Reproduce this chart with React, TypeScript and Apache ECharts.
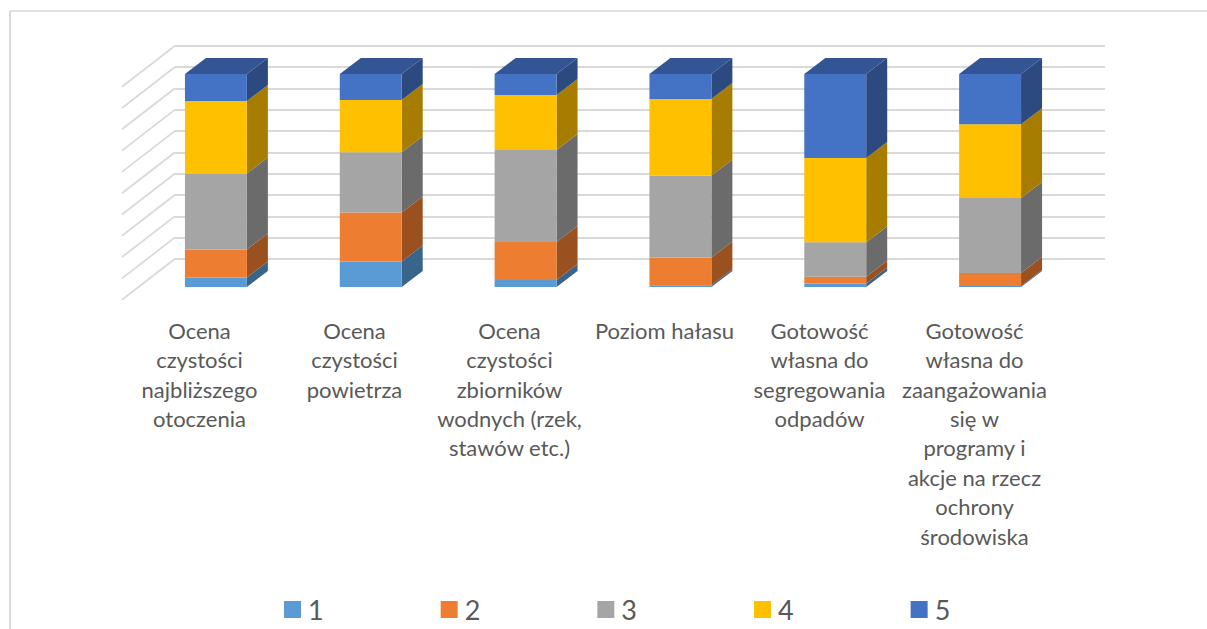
import React, { useEffect, useRef } from "react";
import * as echarts from "echarts";

const categories = [
  "Ocena\nczystości\nnajbliższego\notoczenia",
  "Ocena\nczystości\npowietrza",
  "Ocena\nczystości\nzbiorników\nwodnych (rzek,\nstawów etc.)",
  "Poziom hałasu",
  "Gotowość\nwłasna do\nsegregowania\nodpadów",
  "Gotowość\nwłasna do\nzaangażowania\nsię w\nprogramy i\nakcje na rzecz\nochrony\nśrodowiska",
];
const series1 = [4.5, 12, 3.3, 0.8, 1.7, 0.5];
const series2 = [13.1, 23, 17.8, 13, 3.1, 6.1];
const series3 = [35.7, 28.3, 43.2, 38.5, 16.2, 35.2];
const series4 = [34, 24.5, 25.8, 36, 39.6, 34.6];
const series5 = [12.7, 12.2, 9.9, 11.7, 39.4, 23.6];
const seriesNames = ["1", "2", "3", "4", "5"];
const ticks = [0, 10, 20, 30, 40, 50, 60, 70, 80, 90, 100];

const frontColors = ["#5B9BD5", "#ED7D31", "#A5A5A5", "#FFC000", "#4472C4"];
const sideColors = ["#3A658B", "#9A511F", "#6B6B6B", "#A67D00", "#2C4A80"];
const topColor = "#335593";
const gridColor = "#D9D9D9";
const textColor = "#595959";
const fontFamily = "Lato, 'Noto Sans', sans-serif";

const DEPTH_X = 21;
const DEPTH_Y = 16;
const WALL_X = 53;
const WALL_Y = 41;

export default function App() {
  const ref = useRef<HTMLDivElement>(null);

  useEffect(() => {
    const chart = echarts.init(ref.current!, undefined, { renderer: "svg" });
    const all = [series1, series2, series3, series4, series5];
    const bases = categories.map(() => 0);

    const barSeries = all.map((values, s) => {
      const data = values.map((v, i) => {
        const item = [i, bases[i], bases[i] + v];
        bases[i] += v;
        return item;
      });
      return {
        name: seriesNames[s],
        type: "custom",
        xAxisIndex: 0,
        yAxisIndex: 0,
        z: 5 + s,
        itemStyle: { color: frontColors[s] },
        encode: { x: 0, y: [1, 2] },
        data,
        renderItem: (_p: any, api: any) => {
          const c = api.value(0);
          const bot = api.coord([c, api.value(1)]);
          const top = api.coord([c, api.value(2)]);
          const w = api.size([1, 0])[0] * 0.4;
          const x0 = bot[0] - w / 2;
          const x1 = bot[0] + w / 2;
          const children: any[] = [
            {
              type: "polygon",
              shape: {
                points: [
                  [x1, top[1]],
                  [x1 + DEPTH_X, top[1] - DEPTH_Y],
                  [x1 + DEPTH_X, bot[1] - DEPTH_Y],
                  [x1, bot[1]],
                ],
              },
              style: { fill: sideColors[s] },
            },
            {
              type: "rect",
              shape: { x: x0, y: top[1], width: w, height: bot[1] - top[1] },
              style: { fill: frontColors[s] },
            },
          ];
          if (s === all.length - 1) {
            children.push({
              type: "polygon",
              shape: {
                points: [
                  [x0, top[1]],
                  [x0 + DEPTH_X, top[1] - DEPTH_Y],
                  [x1 + DEPTH_X, top[1] - DEPTH_Y],
                  [x1, top[1]],
                ],
              },
              style: { fill: topColor },
            });
          }
          return { type: "group", children };
        },
      };
    });

    const option: any = {
      animation: false,
      backgroundColor: "#FFFFFF",
      grid: [
        { left: 138.5, width: 929, top: 74, height: 213 },
        { left: 175, width: 930, top: 45.7, height: 213.4 },
        { left: 122, width: 930, top: 86.7, height: 213 },
      ],
      xAxis: [
        { type: "category", gridIndex: 0, data: categories, show: false },
        { type: "category", gridIndex: 1, data: categories, show: false },
        {
          type: "category",
          gridIndex: 2,
          data: categories,
          axisLine: { show: false },
          axisTick: { show: false },
          axisLabel: {
            interval: 0,
            margin: 16,
            color: textColor,
            fontFamily,
            fontSize: 22,
            lineHeight: 29.4,
            align: "center",
            verticalAlign: "top",
          },
        },
      ],
      yAxis: [
        { type: "value", gridIndex: 0, min: 0, max: 100, interval: 10, show: false },
        {
          type: "value",
          gridIndex: 1,
          min: 0,
          max: 100,
          interval: 10,
          axisLine: { show: false },
          axisTick: { show: false },
          axisLabel: { show: false },
          splitLine: { show: true, lineStyle: { color: gridColor, width: 2 } },
        },
        { type: "value", gridIndex: 2, min: 0, max: 100, interval: 10, show: false },
      ],
      legend: {
        left: 279,
        top: 591,
        itemWidth: 17,
        itemHeight: 17,
        itemGap: 117,
        icon: "rect",
        data: seriesNames,
        textStyle: { color: textColor, fontFamily, fontSize: 27, padding: [0, 0, 0, 2] },
      },
      series: [
        ...barSeries,
        {
          name: "walls",
          type: "custom",
          xAxisIndex: 2,
          yAxisIndex: 2,
          z: 1,
          silent: true,
          encode: { y: 0 },
          data: ticks.map((t) => [t]),
          renderItem: (params: any, api: any) => {
            const p = api.coord([0, api.value(0)]);
            const x = params.coordSys.x;
            return {
              type: "line",
              shape: { x1: x, y1: p[1], x2: x + WALL_X, y2: p[1] - WALL_Y },
              style: { stroke: gridColor, lineWidth: 1.75 },
            };
          },
        },
      ],
      graphic: [
        {
          type: "line",
          silent: true,
          shape: { x1: 10, y1: 11, x2: 1207, y2: 11 },
          style: { stroke: gridColor, lineWidth: 1.5 },
        },
        {
          type: "line",
          silent: true,
          shape: { x1: 10, y1: 11, x2: 10, y2: 629 },
          style: { stroke: gridColor, lineWidth: 2 },
        },
      ],
    };
    chart.setOption(option);
    return () => chart.dispose();
  }, []);

  return (
    <div
      ref={ref}
      style={{ position: "fixed", left: 0, top: 0, width: 1207, height: 629 }}
    />
  );
}
